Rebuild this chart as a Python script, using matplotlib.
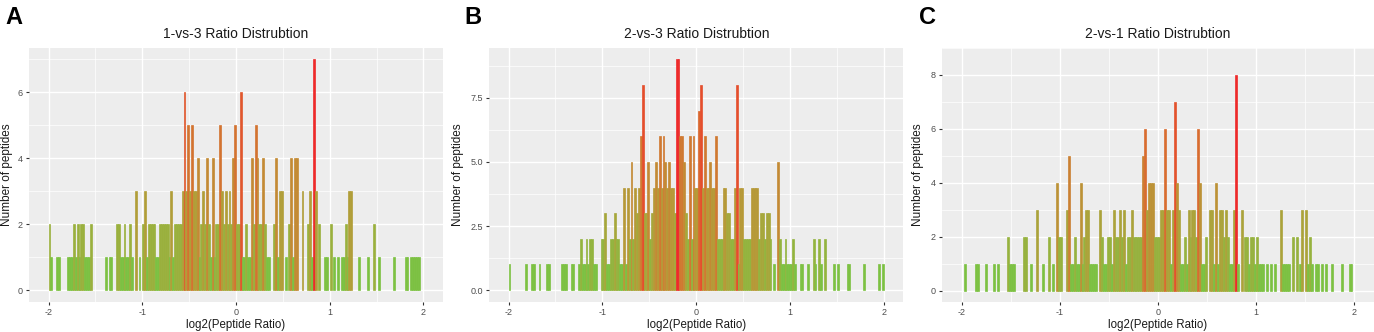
import numpy as np
import matplotlib
matplotlib.use("Agg")
import matplotlib.pyplot as plt

plt.rcParams['font.family'] = ['Liberation Sans', 'DejaVu Sans']

# ---------------- data (counts per 0.02-wide log2 ratio bin, from -2 to 2) ----------------
bin_start = -2.0
bin_width = 0.02

counts_1vs3 = [
    2,1,0,0,1,1,0,0,0,0,  1,1,1,2,1,2,1,2,2,1,  1,1,2,0,0,0,0,0,0,0,  1,0,1,1,0,0,2,2,1,1,
    2,1,1,2,1,0,3,0,1,0,  2,3,1,2,2,2,2,1,1,2,  2,2,2,2,1,3,1,2,2,2,  2,3,6,3,5,3,5,3,3,4,
    1,2,3,2,4,2,1,4,1,2,  2,5,3,2,3,2,3,2,4,5,  2,2,6,1,1,2,1,1,4,2,  5,4,2,2,4,2,1,1,0,0,
    2,4,1,3,3,0,1,0,2,4,  1,4,4,0,0,3,0,0,2,3,  1,7,3,0,2,0,0,1,1,0,  2,0,1,0,1,0,1,1,2,1,
    3,3,0,0,0,1,0,0,0,0,  1,0,0,2,0,0,1,0,0,0,  0,0,0,0,1,0,0,0,0,0,  1,1,0,1,1,1,1,1,0,0,
]
counts_2vs3 = [
    1,0,0,0,0,0,0,0,0,1,  0,0,1,1,0,0,1,0,0,0,  1,1,0,0,0,0,0,0,1,1,  1,0,0,1,1,0,0,1,2,1,
    1,2,1,2,2,1,1,0,0,2,  2,3,1,1,2,2,3,2,2,1,  1,4,1,4,2,5,2,4,3,4,  6,8,3,3,5,2,3,4,5,4,
    6,4,6,5,4,5,4,4,3,9,  9,6,6,5,3,2,6,2,6,4,  4,7,8,4,6,4,4,5,4,4,  6,2,2,2,4,4,3,3,2,2,
    4,8,1,4,4,2,2,2,2,4,  4,4,4,2,3,3,2,3,3,2,  0,1,0,5,2,1,1,2,1,1,  1,2,1,0,0,1,1,0,0,1,
    0,0,2,1,0,2,1,0,2,0,  0,0,0,1,0,1,0,0,0,0,  1,1,0,0,0,0,0,0,0,1,  0,0,0,0,0,0,0,1,0,1,
]
counts_2vs1 = [
    0,1,0,0,0,0,0,1,1,0,  0,0,1,0,0,0,1,0,1,0,  0,0,0,2,1,1,1,0,0,0,  0,2,2,0,0,1,0,0,3,0,
    0,1,0,0,2,0,1,0,4,2,  2,0,0,3,5,1,1,2,1,1,  4,1,2,3,3,1,1,1,1,0,  3,2,1,1,2,2,1,3,2,2,
    3,2,3,1,2,2,3,2,2,2,  2,2,5,6,3,4,4,4,2,2,  2,3,3,6,3,3,1,3,7,4,  3,1,1,2,1,3,2,3,3,2,
    6,4,1,1,2,0,3,3,1,4,  1,3,3,2,3,2,1,1,3,8,  1,0,3,0,2,2,1,2,2,1,  2,1,1,1,0,1,0,1,0,1,
    0,0,3,1,1,1,1,0,2,0,  2,0,1,3,0,3,1,2,1,0,  1,1,0,1,0,1,0,0,1,0,  0,0,0,1,0,0,0,1,1,0,
]

panel_letters = ["A", "B", "C"]
titles = ["1-vs-3 Ratio Distrubtion", "2-vs-3 Ratio Distrubtion", "2-vs-1 Ratio Distrubtion"]
y_ticks = [[0, 2, 4, 6], [0.0, 2.5, 5.0, 7.5], [0, 2, 4, 6, 8]]
y_ticklabels = [["0", "2", "4", "6"], ["0.0", "2.5", "5.0", "7.5"], ["0", "2", "4", "6", "8"]]
x_ticks = [-2, -1, 0, 1, 2]
x_label = "log2(Peptide Ratio)"
y_label = "Number of peptides"

LOW = "#7CC142"
HIGH = "#EE2A2A"


# ---------------- Lab colour interpolation (ggplot-style gradient) ----------------
def hex_to_rgb(h):
    h = h.lstrip('#')
    return np.array([int(h[i:i + 2], 16) / 255 for i in (0, 2, 4)])


def rgb_to_lab(rgb):
    c = np.where(rgb > 0.04045, ((rgb + 0.055) / 1.055) ** 2.4, rgb / 12.92)
    M = np.array([[0.4124, 0.3576, 0.1805], [0.2126, 0.7152, 0.0722], [0.0193, 0.1192, 0.9505]])
    xyz = M @ c / np.array([0.95047, 1.0, 1.08883])
    f = np.where(xyz > 0.008856, np.cbrt(xyz), 7.787 * xyz + 16 / 116)
    return np.array([116 * f[1] - 16, 500 * (f[0] - f[1]), 200 * (f[1] - f[2])])


def lab_to_rgb(lab):
    fy = (lab[0] + 16) / 116
    fx = fy + lab[1] / 500
    fz = fy - lab[2] / 200
    f = np.array([fx, fy, fz])
    xyz = np.where(f ** 3 > 0.008856, f ** 3, (f - 16 / 116) / 7.787) * np.array([0.95047, 1.0, 1.08883])
    Mi = np.array([[3.2406, -1.5372, -0.4986], [-0.9689, 1.8758, 0.0415], [0.0557, -0.2040, 1.0570]])
    c = Mi @ xyz
    c = np.where(c > 0.0031308, 1.055 * np.clip(c, 0, None) ** (1 / 2.4) - 0.055, 12.92 * c)
    return np.clip(c, 0, 1)


lab_low = rgb_to_lab(hex_to_rgb(LOW))
lab_high = rgb_to_lab(hex_to_rgb(HIGH))


def colour_for(c, cmin, cmax):
    t = 0.0 if cmax == cmin else (c - cmin) / (cmax - cmin)
    return lab_to_rgb(lab_low + t * (lab_high - lab_low))


# ---------------- figure ----------------
W, H = 1374, 332
fig = plt.figure(figsize=(W / 100, H / 100), dpi=100)

ax_rects = [
    (29.3, 442.7, -2.205, 2.205),
    (489.3, 903.3, -2.205, 2.205),
    (942.3, 1373.5, -2.198, 2.194),
]
top_px, bot_px = 47.7, 301.7
letter_x = [5, 464, 919]
ylabel_x = [7, 458, 918]

all_counts = [counts_1vs3, counts_2vs3, counts_2vs1]

for k in range(3):
    l, r, x0, x1 = ax_rects[k]
    ax = fig.add_axes([l / W, 1 - bot_px / H, (r - l) / W, (bot_px - top_px) / H])
    counts = np.array(all_counts[k])
    edges = bin_start + bin_width * np.arange(len(counts))
    nz = counts > 0
    cmax = counts.max()
    cols = [colour_for(c, 1, cmax) for c in counts[nz]]
    ax.bar(edges[nz], counts[nz], width=bin_width, align='edge', color=cols,
           edgecolor=cols, linewidth=0.5, zorder=3)

    ax.set_facecolor('#EDEDED')
    ax.set_xlim(x0, x1)
    ymax = cmax
    ax.set_ylim(-0.05 * ymax, ymax * 1.05)
    for s in ax.spines.values():
        s.set_visible(False)

    ax.set_xticks(x_ticks)
    ax.set_xticklabels([str(t) for t in x_ticks])
    ax.set_yticks(y_ticks[k])
    ax.set_yticklabels(y_ticklabels[k])
    yt = y_ticks[k]
    step = yt[1] - yt[0]
    ax.set_xticks([-1.5, -0.5, 0.5, 1.5], minor=True)
    ax.set_yticks([v + step / 2 for v in yt], minor=True)
    ax.grid(which='major', color='white', linewidth=1.0, zorder=0)
    ax.grid(which='minor', color='white', linewidth=0.5, zorder=0)
    ax.set_axisbelow(True)
    ax.tick_params(which='major', length=2.5, width=0.8, color='#333333',
                   labelsize=6.5, labelcolor='#4D4D4D', pad=2)
    ax.tick_params(which='minor', length=0)

    ax.set_title(titles[k], fontsize=10, color='#1a1a1a', pad=7)
    fig.text(((l + r) / 2) / W, 1 - 325 / H, x_label, ha='center', va='center',
             fontsize=8.3, color='#1a1a1a')
    fig.text(ylabel_x[k] / W, 1 - ((top_px + bot_px) / 2) / H, y_label, ha='center',
             va='center', rotation=90, fontsize=8.5, color='#1a1a1a')
    fig.text(letter_x[k] / W, 1 - 17 / H, panel_letters[k], ha='left', va='center',
             fontsize=17, fontweight='bold', color='black')

fig.savefig("out.png", dpi=100, facecolor='white')
